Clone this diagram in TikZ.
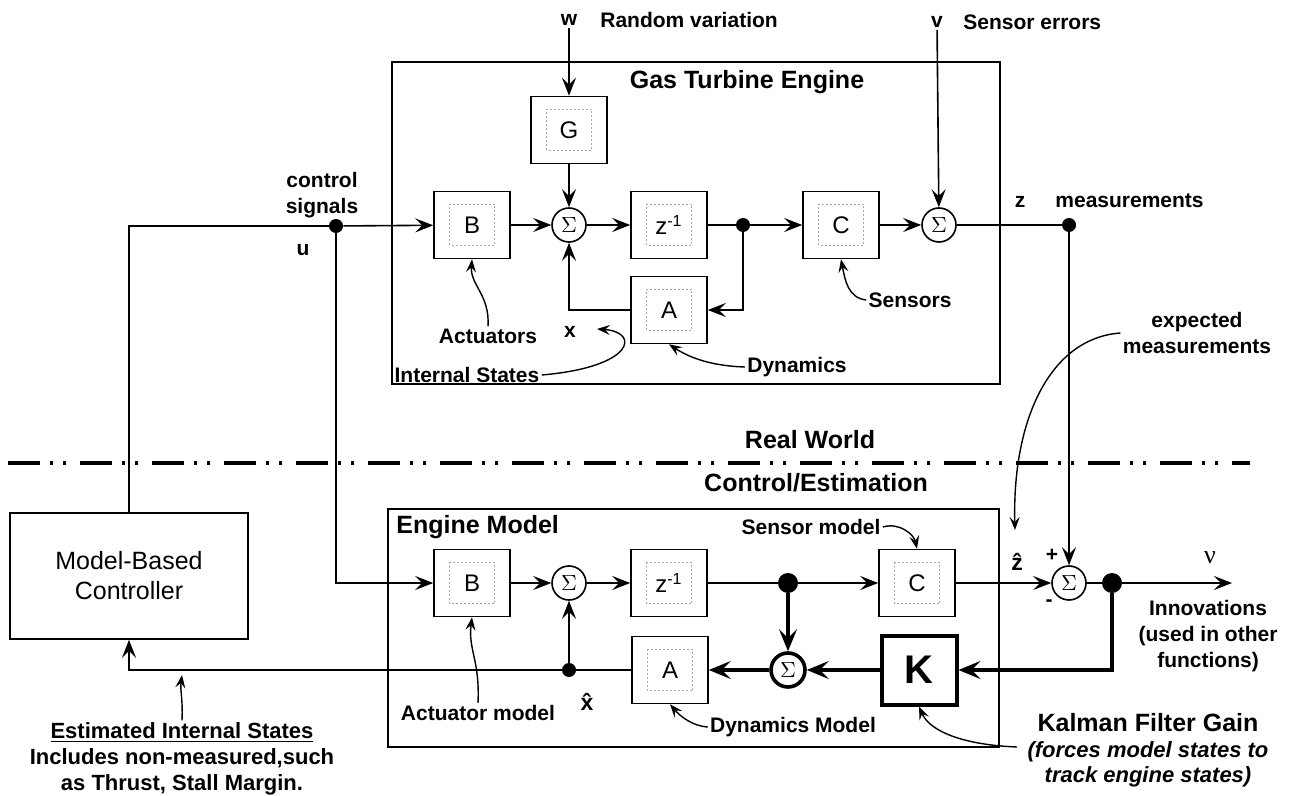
\documentclass[tikz,border=0pt]{standalone}
\usepackage{fontspec}
\setmainfont{Liberation Sans}
\newfontfamily\symfont{Liberation Serif}
\usepackage{tikz}
\usetikzlibrary{arrows.meta,positioning,calc}

\begin{document}
\begin{tikzpicture}[
  x=0.5pt,y=-0.5pt,
  blk/.style={draw,line width=.8pt,minimum width=38pt,minimum height=33.5pt,inner sep=0pt,
              font=\fontsize{12}{14}\selectfont,
              path picture={\draw[gray!70,line width=.4pt,dash pattern=on 1pt off 1pt]
                ([shift={(-11.25pt,-10.25pt)}]path picture bounding box.center) rectangle ++(22.5pt,20.5pt);}},
  kbox/.style={draw,line width=2pt,minimum width=37.5pt,minimum height=34.5pt,inner sep=0pt,
               font=\fontsize{20}{22}\selectfont\bfseries},
  sum/.style={circle,draw,line width=.8pt,minimum size=17pt,inner sep=0pt,font=\fontsize{11}{12}\selectfont},
  dot/.style={circle,fill,minimum size=7pt,inner sep=0pt},
  bigdot/.style={dot,minimum size=10pt},
  a/.style={-{Stealth[length=9pt,width=7pt,inset=3.5pt]},line width=.8pt},
  ta/.style={-{Stealth[length=11pt,width=9pt,inset=4.5pt]},line width=2.2pt},
  ann/.style={-{Stealth[length=6.5pt,width=5pt,inset=2.5pt]},line width=.7pt},
  lbl/.style={font=\fontsize{10.5}{13}\selectfont\bfseries,inner sep=1pt},
  ttl/.style={font=\fontsize{12.5}{15}\selectfont\bfseries,inner sep=1pt}]
\useasboundingbox (0,0) rectangle (1290,796);

% real world: the engine
\draw[line width=.8pt] (392,62) rectangle (1000,384);
\node[ttl] (gte) at (747,82) {Gas Turbine Engine};
\node[blk] (B)  at (472,225) {B};
\node[sum] (s1) at (569,225) {$\Sigma$};
\node[blk] (G)  at (569,130) {G};
\node[blk] (zi) at (669,225) {z\textsuperscript{-1}};
\node[dot] (d1) at (743,225) {};
\node[blk] (C)  at (841,225) {C};
\node[sum] (s2) at (939,225) {$\Sigma$};
\node[blk] (A)  at (669,310) {A};
\node[dot] (du) at (336,226) {};
\node[dot] (dz) at (1069,225) {};

\node[lbl] (wl) at (569,20) {w};
\node[lbl,anchor=west] (rv) at (598,20) {Random variation};
\node[lbl] (vl) at (937,22) {v};
\node[lbl,anchor=west] (se) at (961,22) {Sensor errors};
\node[lbl,align=center] (cs) at (322,195) {control\\signals};
\node[lbl] (ul) at (303,250) {u};
\node[lbl] (zl) at (1020,202) {z};
\node[lbl,anchor=west] (ms) at (1053,201) {measurements};
\node[lbl] (xl)   at (570,332) {x};
\node[lbl] (act)  at (488,336) {Actuators};
\node[lbl] (ist)  at (467,375) {Internal States};
\node[lbl] (dyn)  at (797,367) {Dynamics};
\node[lbl] (sens) at (910,300) {Sensors};
\coordinate (xt) at (597,329);

\draw[a] (wl) -- (G);
\draw[a] (G) -- (s1);
\draw[a] (du) -- (B);
\draw[a] (B) -- (s1);
\draw[a] (s1) -- (zi);
\draw[line width=.8pt] (zi) -- (d1);
\draw[a] (d1) -- (C);
\draw[a] (C) -- (s2);
\draw[a] (vl) -- (s2);
\draw[line width=.8pt] (s2) -- (dz);
\draw[a] (d1) |- (A);
\draw[a] (A) -| (s1);

\draw[ann] (act.north) .. controls (490,295) and (470,285) .. (B.south);
\draw[ann] (ist.east) .. controls (635,367) and (640,332) .. (xt);
\draw[ann] (dyn.west) .. controls (712,366) and (690,358) .. (A.south);
\draw[ann] (sens.west) .. controls (848,298) and (845,280) .. (C.south);

% border between the two worlds
\draw[line width=2pt,dash pattern=on 16pt off 5pt on 1.5pt off 5pt on 1.5pt off 7pt] (8,463) -- (1250,463);
\node[ttl] (rw) at (810,440) {Real World};
\node[ttl] (ce) at (816,483) {Control/Estimation};

% control/estimation: the model
\draw[line width=.8pt] (388,509) rectangle (999,747);
\node[ttl,anchor=west] (emt) at (394,527) {Engine Model};
\node[blk] (Bm) at (472,583) {B};
\node[sum] (s3) at (569,583) {$\Sigma$};
\node[blk] (zm) at (669,583) {z\textsuperscript{-1}};
\node[bigdot] (d2) at (788,583) {};
\node[blk] (Cm) at (917,583) {C};
\node[sum] (s4) at (1069,583) {$\Sigma$};
\node[bigdot] (d3) at (1112,583) {};
\coordinate (nu) at (1232,583);
\node[blk] (Am) at (670,670) {A};
\node[sum,line width=1.8pt] (s5) at (788,670) {$\Sigma$};
\node[kbox] (K) at (919,670) {K};
\node[dot] (d4) at (569,670) {};
\node[draw,line width=.8pt,minimum width=119pt,minimum height=63pt,align=center,
      font=\fontsize{12.5}{15}\selectfont] (ctl) at (129,576) {Model-Based\\Controller};

\node[lbl] (smod) at (811,527) {Sensor model};
\node[lbl,font=\fontsize{11.5}{13}\selectfont\bfseries] (zh) at (1017,562) {\^{z}};
\node[lbl] (pl) at (1052,555) {+};
\node[lbl] (mi) at (1049,603) {-};
\node[font=\fontsize{13}{14}\selectfont\symfont] (nul) at (1210,558) {ν};
\node[lbl,align=center] (inn) at (1208,636) {Innovations\\(used in other\\functions)};
\node[lbl,align=center] (expm) at (1197,333) {expected\\measurements};
\node[lbl,font=\fontsize{11.5}{13}\selectfont\bfseries] (xh) at (587,702) {\^{x}};
\node[lbl] (amod) at (478,713) {Actuator model};
\node[lbl] (dmod) at (793,727) {Dynamics Model};
\node[font=\fontsize{12.5}{15}\selectfont\bfseries] (kal) at (1148,723) {Kalman Filter Gain};
\node[lbl,align=center,font=\fontsize{11}{12.5}\selectfont\bfseries\itshape] (kfs) at (1148,764)
  {(forces model states to\\track engine states)};
\node[lbl,align=center,font=\fontsize{11}{13}\selectfont\bfseries] (est) at (182,759)
  {\underline{Estimated Internal States}\\Includes non-measured,such\\as Thrust, Stall Margin.};
\coordinate (ez) at (1015,530);
\coordinate (ks) at (1017,747);
\coordinate (ep) at (182,675);

\draw[line width=.8pt] (ctl.north) |- (du);
\draw[a] (du) |- (Bm);
\draw[a] (Bm) -- (s3);
\draw[a] (s3) -- (zm);
\draw[line width=.8pt] (zm) -- (d2);
\draw[a] (d2) -- (Cm);
\draw[a] (Cm) -- (s4);
\draw[a] (dz) -- (s4);
\draw[line width=.8pt] (s4) -- (d3);
\draw[a] (d3) -- (nu);
\draw[ta] (d2) -- (s5);
\draw[ta] (d3) |- (K);
\draw[ta] (K) -- (s5);
\draw[ta] (s5) -- (Am);
\draw[line width=.8pt] (Am) -- (d4);
\draw[a] (d4) -- (s3);
\draw[a] (d4) -| (ctl);

\draw[ann] (smod.east) .. controls (900,522) and (914,535) .. (Cm.north);
\draw[ann] (amod.north) .. controls (480,660) and (468,650) .. (Bm.south);
\draw[ann] (dmod.west) .. controls (692,726) and (680,716) .. (Am.south);
\draw[ann] (ks) .. controls (965,745) and (930,732) .. (K.south);
\draw[ann] (expm.west) .. controls (1050,338) and (1012,420) .. (ez);
\draw[ann] (est.north) .. controls (183,700) and (180,690) .. (ep);
\end{tikzpicture}
\end{document}
